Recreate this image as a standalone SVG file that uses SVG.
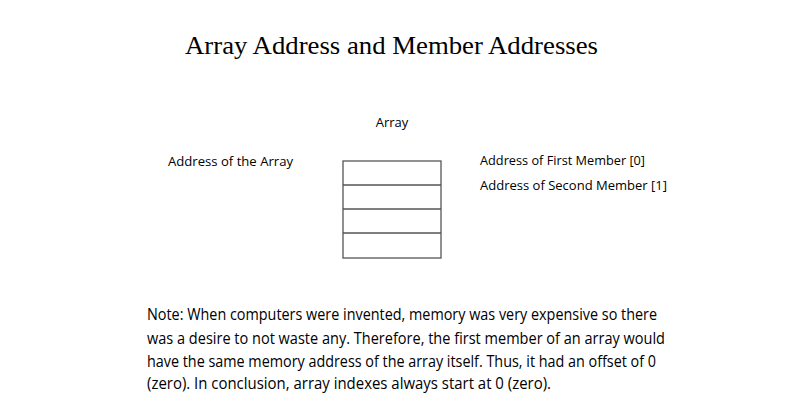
<svg xmlns="http://www.w3.org/2000/svg" width="800" height="419" viewBox="0 0 800 419">
<style>
.t{font-family:"Open Sans","Liberation Sans",sans-serif;font-size:13px;fill:#000}
.n{font-family:"Open Sans","Liberation Sans",sans-serif;font-size:15.5px;fill:#000}
.c{fill:none;stroke:#555;stroke-width:1.3}
</style>
<rect width="800" height="419" fill="#fff"/>
<text x="185" y="54" textLength="413" lengthAdjust="spacingAndGlyphs" font-family="Liberation Serif,serif" font-size="25" fill="#000">Array Address and Member Addresses</text>
<g id="array">
<text class="t" x="392" y="127" text-anchor="middle" font-size="14">Array</text>
<rect class="c" x="343" y="161" width="98" height="97"/>
<line class="c" x1="343" y1="185" x2="441" y2="185"/>
<line class="c" x1="343" y1="209" x2="441" y2="209"/>
<line class="c" x1="343" y1="233" x2="441" y2="233"/>
</g>
<g id="labels">
<text class="t" x="168" y="166" textLength="125" lengthAdjust="spacingAndGlyphs">Address of the Array</text>
<text class="t" x="480" y="165" textLength="165" lengthAdjust="spacingAndGlyphs">Address of First Member [0]</text>
<text class="t" x="480" y="190" textLength="187" lengthAdjust="spacingAndGlyphs">Address of Second Member [1]</text>
</g>
<g id="note">
<text class="n" x="147" y="320" textLength="510" lengthAdjust="spacingAndGlyphs">Note: When computers were invented, memory was very expensive so there</text>
<text class="n" x="147" y="344" textLength="518" lengthAdjust="spacingAndGlyphs">was a desire to not waste any. Therefore, the first member of an array would</text>
<text class="n" x="147" y="367" textLength="509" lengthAdjust="spacingAndGlyphs">have the same memory address of the array itself. Thus, it had an offset of 0</text>
<text class="n" x="147" y="389" textLength="404" lengthAdjust="spacingAndGlyphs">(zero). In conclusion, array indexes always start at 0 (zero).</text>
</g>
</svg>
